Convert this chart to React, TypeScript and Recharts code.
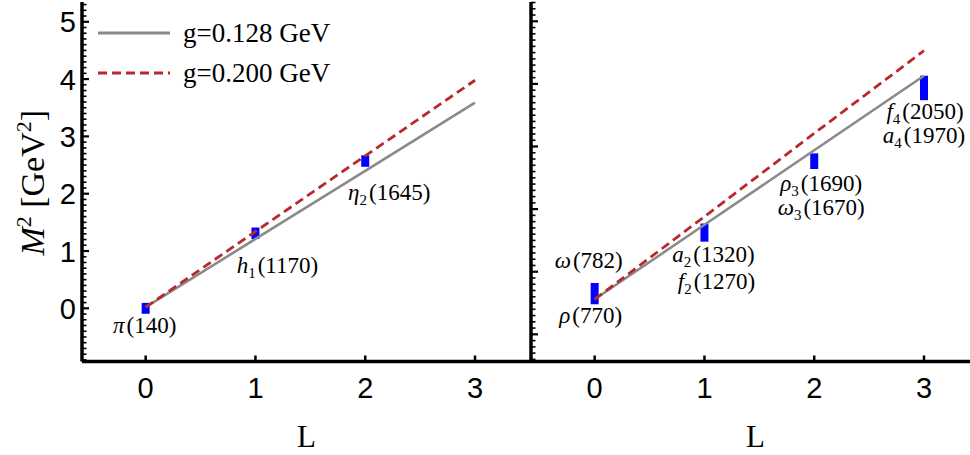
import React from 'react';
import { ComposedChart, Line, Scatter, ErrorBar, XAxis, YAxis, Legend, Label } from 'recharts';

const SERIF = '"Liberation Serif", "Times New Roman", serif';
const SANS = '"Liberation Sans", Arial, sans-serif';

// orbital angular momentum along each trajectory
const L_VALUES = [0, 1, 2, 3];
const X_TICKS = [0, 1, 2, 3];
const Y_MAJOR = [0, 1, 2, 3, 4, 5];

const G_LOW = 'g=0.128 GeV';
const G_HIGH = 'g=0.200 GeV';

// left panel: pi / h1 / eta2
const leftLineLow = [0.02, 1.21, 2.4, 3.59];
const leftLineHigh = [0.02, 1.34, 2.66, 3.98];
const leftStateL = [0, 1, 2];
const leftStateM2 = [0.0, 1.31, 2.57];
const leftStateErr = [0.095, 0.1, 0.1];
const leftStates = [
  { sym: 'π', sub: '', mass: '140' },
  { sym: 'h', sub: '1', mass: '1170' },
  { sym: 'η', sub: '2', mass: '1645' },
];

// right panel: rho/omega family
const rightLineLow = [0.56, 1.75, 2.94, 4.13];
const rightLineHigh = [0.56, 1.88, 3.21, 4.53];
const rightStateL = [0, 1, 2, 3];
const rightStateM2 = [0.65, 1.625, 2.765, 3.935];
const rightStateErr = [0.17, 0.145, 0.125, 0.195];
const rightStatesA = [
  { sym: 'ω', sub: '', mass: '782' },
  { sym: 'a', sub: '2', mass: '1320' },
  { sym: 'ρ', sub: '3', mass: '1690' },
  { sym: 'f', sub: '4', mass: '2050' },
];
const rightStatesB = [
  { sym: 'ρ', sub: '', mass: '770' },
  { sym: 'f', sub: '2', mass: '1270' },
  { sym: 'ω', sub: '3', mass: '1670' },
  { sym: 'a', sub: '4', mass: '1970' },
];

// label offsets in px from the marker centre
const LEFT_OFFSETS = [[-1, 25], [22, 40], [24, 39]];
const RIGHT_OFFSETS_A = [[-6, -26], [9, 29], [7, 30], [1, 31]];
const RIGHT_OFFSETS_B = [[-4, 29], [12, 56], [7, 54], [0, 55]];

const SERIES_STYLE: Record<string, { stroke: string; dash?: string }> = {
  low: { stroke: '#8a8a8a' },
  high: { stroke: '#b8282c', dash: '9 5' },
};

const X_DOMAIN: [number, number] = [-0.58, 3.51];
const LEFT_Y: [number, number] = [-0.928, 5.345];
const RIGHT_Y: [number, number] = [-0.434, 5.308];

const leftLines = L_VALUES.map((L, i) => ({ L, low: leftLineLow[i], high: leftLineHigh[i] }));
const rightLines = L_VALUES.map((L, i) => ({ L, low: rightLineLow[i], high: rightLineHigh[i] }));
const leftPts = leftStateL.map((L, i) => ({ L, m2: leftStateM2[i], err: leftStateErr[i], i }));
const rightPts = rightStateL.map((L, i) => ({ L, m2: rightStateM2[i], err: rightStateErr[i], i }));

function tenths(lo: number, hi: number) {
  const out: number[] = [];
  for (let k = Math.ceil(lo * 10); k <= Math.floor(hi * 10); k++) out.push(k / 10);
  return out;
}

const isMajor = (v: number) => Math.abs(v - Math.round(v)) < 1e-6 && Y_MAJOR.includes(Math.round(v));

const StateName = ({ x, y, s }: any) => (
  <text x={x} y={y} textAnchor="middle" fontFamily={SERIF} fontSize={23} fill="#000">
    <tspan fontStyle="italic">{s.sym}</tspan>
    {s.sub ? <tspan fontSize={15} dy={5}>{s.sub}</tspan> : null}
    <tspan dx={2} dy={s.sub ? -5 : 0}>({s.mass})</tspan>
  </text>
);

const makeYTick = (showLabel: boolean) => (props: any) => {
  const { x, y, payload } = props;
  const v = payload.value;
  const major = isMajor(v);
  return (
    <g>
      <line x1={x} x2={x + (major ? 7 : 4.5)} y1={y} y2={y} stroke="#000" strokeWidth={major ? 2.2 : 1.6} />
      {major && showLabel ? (
        <text x={x - 6} y={y + 10.5} textAnchor="end" fontFamily={SANS} fontSize={29} fill="#000">
          {Math.round(v)}
        </text>
      ) : null}
    </g>
  );
};

const XTick = (props: any) => {
  const { x, y, payload } = props;
  return (
    <g>
      <line x1={x} x2={x} y1={y} y2={y - 6} stroke="#000" strokeWidth={2.5} />
      <text x={x} y={y + 36.5} textAnchor="middle" fontFamily={SANS} fontSize={29} fill="#000">
        {payload.value}
      </text>
    </g>
  );
};

const XTitle = ({ viewBox }: any) => (
  <text x={viewBox.x + viewBox.width / 2} y={viewBox.y + 85.5} textAnchor="middle" fontFamily={SERIF} fontSize={31} fill="#000">
    L
  </text>
);

const YTitle = ({ viewBox }: any) => {
  const cy = viewBox.y + viewBox.height / 2 + 1;
  return (
    <text transform={`translate(44,${cy}) rotate(-90)`} textAnchor="middle" fontFamily={SERIF} fontSize={34} fill="#000">
      <tspan fontStyle="italic">M</tspan>
      <tspan fontSize={22} dy={-13}>2</tspan>
      <tspan dy={13}> [GeV</tspan>
      <tspan fontSize={22} dy={-13}>2</tspan>
      <tspan dy={13}>]</tspan>
    </text>
  );
};

const LegendBox = (props: any) => {
  const items = (props.payload || []).filter((p: any) => SERIES_STYLE[p.dataKey]);
  return (
    <div>
      {items.map((it: any) => {
        const st = SERIES_STYLE[it.dataKey];
        return (
          <div key={it.dataKey} style={{ display: 'flex', alignItems: 'center', height: 40 }}>
            <svg width={88} height={40}>
              <line x1={3} x2={75} y1={20} y2={20} stroke={st.stroke} strokeWidth={3} strokeDasharray={st.dash} />
            </svg>
            <span style={{ fontFamily: SERIF, fontSize: 27, lineHeight: '40px', color: '#000', whiteSpace: 'nowrap' }}>
              {it.value}
            </span>
          </div>
        );
      })}
    </div>
  );
};

const makeLeftShape = () => (props: any) => {
  const { cx, cy, payload } = props;
  const i = payload.i;
  const [dx, dy] = LEFT_OFFSETS[i];
  return <StateName x={cx + dx} y={cy + dy} s={leftStates[i]} />;
};

const makeRightShape = () => (props: any) => {
  const { cx, cy, payload } = props;
  const i = payload.i;
  const [ax, ay] = RIGHT_OFFSETS_A[i];
  const [bx, by] = RIGHT_OFFSETS_B[i];
  return (
    <g>
      <StateName x={cx + ax} y={cy + ay} s={rightStatesA[i]} />
      <StateName x={cx + bx} y={cy + by} s={rightStatesB[i]} />
    </g>
  );
};

const AXIS = { stroke: '#000', strokeWidth: 3.5 };

function Panel({ lines, pts, yDomain, shape, showLabels, legend, width, marginRight, yWidth }: any) {
  return (
    <ComposedChart width={width} height={455} data={lines} margin={{ top: 2, right: marginRight, bottom: 0, left: 0 }}>
      <XAxis
        dataKey="L"
        type="number"
        domain={X_DOMAIN}
        allowDataOverflow
        ticks={X_TICKS}
        interval={0}
        tick={<XTick />}
        tickLine={false}
        tickSize={0}
        tickMargin={0}
        axisLine={AXIS}
        height={93.5}
      >
        <Label content={<XTitle />} />
      </XAxis>
      <XAxis xAxisId="top" orientation="top" type="number" domain={X_DOMAIN} allowDataOverflow tick={false} tickLine={false} axisLine={AXIS} height={0} />
      <YAxis
        type="number"
        domain={yDomain}
        allowDataOverflow
        ticks={tenths(yDomain[0], yDomain[1])}
        interval={0}
        tick={makeYTick(showLabels)}
        tickLine={false}
        tickSize={0}
        tickMargin={0}
        axisLine={AXIS}
        width={yWidth}
      >
        {showLabels ? <Label content={<YTitle />} /> : null}
      </YAxis>
      {legend ? (
        <Legend
          content={<LegendBox />}
          layout="horizontal"
          verticalAlign="middle"
          align="center"
          wrapperStyle={{ left: 95, top: 13, width: 280, height: 80 }}
        />
      ) : null}
      <Scatter data={pts} dataKey="m2" legendType="none" isAnimationActive={false} shape={shape}>
        <ErrorBar dataKey="err" direction="y" width={0} stroke="#0000ff" strokeWidth={8} isAnimationActive={false} />
      </Scatter>
      <Line type="linear" dataKey="low" name={G_LOW} stroke={SERIES_STYLE.low.stroke} strokeWidth={2.6} dot={false} activeDot={false} isAnimationActive={false} />
      <Line
        type="linear"
        dataKey="high"
        name={G_HIGH}
        stroke={SERIES_STYLE.high.stroke}
        strokeWidth={2.8}
        strokeDasharray={SERIES_STYLE.high.dash}
        dot={false}
        activeDot={false}
        isAnimationActive={false}
      />
    </ComposedChart>
  );
}

export default function App() {
  return (
    <div style={{ position: 'absolute', left: 0, top: 0, width: 970, height: 455, overflow: 'hidden', background: '#fff' }}>
      <div style={{ position: 'absolute', left: 0, top: 0 }}>
        <Panel lines={leftLines} pts={leftPts} yDomain={LEFT_Y} shape={makeLeftShape()} showLabels legend width={540} marginRight={9} yWidth={82} />
      </div>
      <div style={{ position: 'absolute', left: 481, top: 0 }}>
        <Panel lines={rightLines} pts={rightPts} yDomain={RIGHT_Y} shape={makeRightShape()} showLabels={false} legend={false} width={510} marginRight={11} yWidth={50} />
      </div>
    </div>
  );
}
